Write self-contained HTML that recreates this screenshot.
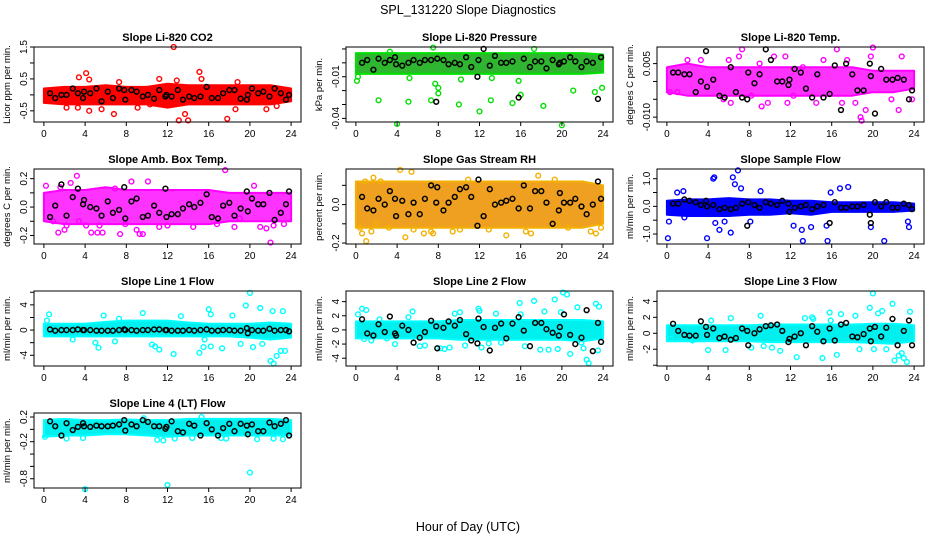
<!DOCTYPE html>
<html><head><meta charset="utf-8"><style>
html,body{margin:0;padding:0;background:#fff;}
svg{display:block;font-family:"Liberation Sans",sans-serif;}
</style></head><body>
<svg id="chart" width="936" height="540" viewBox="0 0 936 540">
<text x="468" y="14" text-anchor="middle" font-size="12.5">SPL_131220  Slope Diagnostics</text>
<text x="468" y="531" text-anchor="middle" font-size="12.5">Hour of Day (UTC)</text>
</svg>
<script>
const bandHours=[0,2,4,6,8,10,12,14,16,18,20,22,24];
const blackX=[0.6,1.1,1.7,2.2,2.8,3.3,3.8,3.9,4.5,5.1,5.6,6.2,6.7,7.3,7.8,7.9,8.5,9,9.6,10.1,10.7,11.2,11.8,11.9,12.4,13,13.5,14.1,14.6,15.2,15.8,16.3,16.9,17.4,18,18.5,19.1,19.7,19.8,20.2,20.8,21.3,21.9,22.4,23,23.5,23.8];
const xTicks=[0,4,8,12,16,20,24];

const co2Hi=[0.2,0.25,0.25,0.3,0.25,0.25,0.35,0.3,0.3,0.3,0.3,0.3,0.2];
const co2Lo=[-0.25,-0.3,-0.3,-0.3,-0.3,-0.3,-0.4,-0.3,-0.3,-0.3,-0.3,-0.3,-0.2];
const co2OutX=[12.6,4.1,3.4,15.1,4.4,13.1,14,17.8,6.8,4.4,13.7,5.6,2.2,9.1,18.6,21.6,11.2,12.9,15.3,7.3,18.8,22.6,3.3,10.3];
const co2OutY=[1.5,0.68,0.55,0.72,0.48,-0.8,-0.8,-0.75,-0.6,-0.5,-0.6,-0.45,-0.4,-0.4,-0.45,-0.45,0.5,0.45,0.5,0.4,0.4,-0.35,-0.4,-0.3];
const co2BlackY=[0.05,-0.1,0,0,0.2,0.05,-0.1,0.1,0.05,0.2,-0.2,0.1,-0.1,0.2,0.15,-0.15,0.15,0.1,-0.05,0,-0.12,0.15,-0.05,0,-0.05,0.15,-0.15,-0.05,-0.1,-0.05,0.25,-0.1,-0.1,0.05,0.15,0.15,-0.12,-0.15,0,0.2,0.05,0.1,-0.05,0.2,0.05,-0.15,0];

const presHi=[0.007,0.007,0.007,0.007,0.007,0.007,0.007,0.007,0.007,0.007,0.007,0.007,0.006];
const presLo=[-0.008,-0.008,-0.008,-0.008,-0.008,-0.008,-0.008,-0.008,-0.008,-0.008,-0.008,-0.008,-0.007];
const presOutX=[0.1,0.2,2.2,4,5.1,5.2,7.3,7.5,7.7,8,8,10,10.2,12,13.1,13.2,15.2,15.8,16,18.2,20,21.1,23.2,23.9,17.3,3.3];
const presOutY=[-0.013,-0.010,-0.027,-0.044,-0.028,-0.011,-0.027,0.011,-0.015,-0.018,-0.022,-0.030,-0.012,-0.035,-0.027,-0.011,-0.029,-0.013,-0.023,-0.031,-0.045,-0.020,-0.021,-0.018,0.010,0.008];
const presBlackY=[0,0.002,-0.005,0.003,0,0.002,0.004,-0.001,-0.002,0,0.002,0,0.002,0.002,-0.028,0.003,0.002,-0.001,0,-0.001,0.004,-0.003,-0.010,0.002,0.010,-0.002,0.005,0,0,0.001,-0.025,0.003,-0.003,0.001,0.001,-0.004,0.002,-0.001,0,0.001,0.004,0.001,-0.003,0.001,0,-0.026,0.004];

const tempHi=[0.004,0.005,0.004,0.004,0.004,0.004,0.004,0.004,0.004,0.004,0.003,0.003,0.003];
const tempLo=[-0.003,-0.004,-0.004,-0.004,-0.004,-0.004,-0.004,-0.004,-0.004,-0.004,-0.003,-0.003,-0.002];
const tempOutX=[0.3,1,2,3.3,5.5,6.2,7.3,7,8.2,9.2,9.8,10.4,11.7,12.3,13.2,14.5,16.5,17,18.3,18.8,18.9,19.3,19.8,20,21.8,22.5,22.8,23.8,6,9,11.5,15.2,17.5];
const tempOutY=[-0.003,-0.003,0.006,0.006,-0.005,-0.006,0.009,0.007,-0.004,-0.007,-0.006,0.007,-0.006,-0.004,0.004,-0.006,0.009,-0.006,-0.006,-0.010,-0.011,-0.008,0.007,0.0095,-0.005,-0.008,0.007,-0.005,0.006,0.005,0.007,0.006,0.006];
const tempBlackY=[0.0025,0.0025,0.002,0.002,-0.003,0,0.0085,-0.0015,0.0005,-0.004,-0.0045,0.004,-0.003,-0.0045,-0.005,0.0025,-0.0005,0.002,0.009,0.006,0,0,-0.001,0.0005,0.0035,0.0025,-0.002,-0.0045,0.002,-0.0045,-0.0035,0.0045,-0.008,0.005,0.002,-0.0025,-0.0025,0.005,0.0015,-0.009,0.0035,0.0005,0.0005,0.001,0.0005,-0.005,-0.0025];

const boxHi=[0.1,0.12,0.12,0.14,0.12,0.12,0.12,0.12,0.12,0.1,0.1,0.1,0.1];
const boxLo=[-0.1,-0.12,-0.12,-0.12,-0.12,-0.12,-0.12,-0.12,-0.12,-0.1,-0.1,-0.1,-0.1];
const boxOutX=[0.2,0.9,1.4,2,2.2,2.6,3.2,3.4,4.1,4.6,5.2,5.4,5.7,7.4,7.9,8.5,9,9.3,9.6,10.1,11.2,14.5,17.6,18.5,19,20.4,21,21.6,22,22.3,23.3,1.6,6.9,12,16.8];
const boxOutY=[0.15,-0.1,-0.18,-0.16,-0.13,0.17,0.22,-0.1,-0.13,-0.18,-0.18,-0.13,-0.18,-0.19,-0.12,0.18,-0.16,-0.19,-0.19,0.18,-0.14,-0.14,0.26,-0.14,-0.08,0.15,-0.14,-0.15,-0.25,-0.13,-0.12,0.14,0.13,-0.13,-0.12];
const boxBlackY=[-0.07,0.01,0.16,-0.06,0.07,0.13,0.02,0.05,0,-0.01,-0.06,0.04,-0.04,-0.02,0.14,-0.08,0.04,0.06,-0.07,-0.06,0.01,-0.04,0.13,-0.07,-0.05,-0.05,-0.01,0.02,0,0.03,0.09,-0.07,-0.08,0.01,0.03,-0.06,-0.01,0.11,-0.03,0.06,0.02,0.02,0.1,-0.09,-0.04,0.02,0.11];

const rhHi=[0.12,0.12,0.12,0.12,0.12,0.12,0.12,0.12,0.12,0.12,0.12,0.12,0.1];
const rhLo=[-0.12,-0.12,-0.12,-0.12,-0.12,-0.12,-0.12,-0.12,-0.12,-0.12,-0.12,-0.12,-0.1];
const rhOutX=[0.4,0.6,1,1.5,1.7,2,2.4,3.2,4.3,4.8,5.4,5.6,6.6,7.3,7.5,9.4,10.1,10.9,12.9,14.6,16.5,17,17.7,19.3,19.6,20.6,22.8,23.3,23.8,0.9];
const rhOutY=[-0.12,-0.15,-0.19,-0.14,0.14,-0.1,0.12,-0.12,0.18,-0.17,0.17,-0.13,-0.15,-0.14,-0.15,-0.14,-0.13,0.13,-0.13,-0.16,-0.14,-0.15,0.15,0.13,-0.1,-0.12,-0.14,-0.15,-0.12,0.12];
const rhBlackY=[0.04,-0.02,-0.03,0.03,0,0.07,0.03,-0.06,0.02,-0.05,0.01,-0.05,0.03,0.1,0.01,0.09,-0.03,0.01,0.04,0.08,0.09,0.04,-0.11,0.13,-0.06,0.08,0,0.01,0.02,0.03,-0.02,0.1,-0.02,0.07,0.07,0.01,-0.1,-0.03,0.06,0.01,0.01,0.03,-0.01,-0.05,0,0.12,0.03];

const flowHi=[0.2,0.25,0.25,0.3,0.25,0.25,0.2,0.2,0.15,0.15,0.15,0.15,0.1];
const flowLo=[-0.3,-0.35,-0.35,-0.35,-0.3,-0.3,-0.25,-0.3,-0.2,-0.2,-0.2,-0.2,-0.15];
const flowOutX=[0.1,0.2,1,1.6,1.7,3.9,4.5,4.7,4.6,5.1,5.6,6.2,6.4,6.6,6.9,7.2,9.1,13.1,13.2,14,15.5,15.6,15.9,16.8,17.6,19.8,21.1,23.4,23.5,12.3,8.1];
const flowOutY=[-1.15,-0.55,0.5,0.55,-0.4,-1.15,1.0,-0.6,1.05,-0.85,-0.55,-0.95,1.05,0.8,1.3,0.65,0.55,-0.85,-1.25,-0.75,-0.7,-1.25,0.5,0.65,0.7,-0.75,-1.25,-0.55,-0.75,-0.7,-0.55];
const flowBlackY=[0.1,0.1,0.25,0.2,0.15,0.05,0.2,0,0.05,-0.1,-0.05,-0.1,-0.05,0.1,-0.7,0.15,0.05,-0.05,0.15,0.1,0.05,0.2,0.1,-0.2,-0.05,0,0.05,-0.1,0,0.05,-0.6,0.15,-0.05,-0.05,0,0,0.05,-0.3,-0.6,0.15,0,0.15,-0.05,-0.05,0.1,0.05,-0.1];

const l1Hi=[1,1,1,1.3,1.5,1.5,1.5,1.2,1,1,1,1.2,1];
const l1Lo=[-1,-1,-1,-1,-1,-1,-1,-1,-1,-1,-1.2,-1.5,-1.2];
const l1OutX=[0.3,0.5,2.8,5,5.3,5.8,6.9,7.3,9.6,10.5,10.8,11.2,12.6,13.3,15.1,15.5,15.6,16,16.2,17.3,18.3,19.1,19.6,20,20.3,21,21.2,22,22.2,22.3,22.6,23,23.2,23.4,16.2];
const l1OutY=[1.5,2.5,-1.5,-2,-2.8,2.3,-1.8,1.8,2.7,-2.3,-2.6,-3.1,-3.8,2.2,-3.6,-2.7,-1.5,3.3,2.5,-2.9,2.3,-2.2,3.9,5.9,-2.7,3.5,-2.2,-4.9,3,-5.3,-4.1,-3.3,3,-3.3,-2.6];
const l1BlackY=[0.1,-0.1,0,0,0,0.1,0,0,0,-0.1,-0.1,-0.1,-0.1,0,0.1,0,0,-0.1,0,0,0.1,0.1,0,0,-0.1,-0.1,-0.1,0,-0.1,0,0.1,-0.1,-0.1,0,0,-0.1,-0.1,0.3,-0.5,0,-0.1,-0.1,0.2,-0.1,0,0,-0.2];

const l2Hi=[1.2,1.2,1.2,1.2,1.2,1.4,1.4,1.4,1.4,1.4,1.4,1.4,1.2];
const l2Lo=[-1.2,-1.2,-1.2,-1.2,-1.2,-1.4,-1.4,-1.4,-1.4,-1.4,-1.4,-1.6,-1.2];
const l2OutX=[0.2,0.6,1,1.5,0.8,2.3,3,3.8,5.1,5.5,6.2,6.7,8.2,8.6,9.1,9.6,10.1,10.6,11.9,12.2,12.9,13.6,14.1,15.9,16.4,17.3,17.9,18.3,18.7,19.3,19.6,20.1,20.5,20.8,21.5,22.1,22.4,22.6,23.3,23.5,23.6,12,16,19.9,21.9];
const l2OutY=[2.2,3,2.8,-1.5,-1.3,1.5,-1.2,-2,1.8,2.6,-2.3,-2.2,-2.6,-2.7,-2.5,2.3,2.5,-2.2,3,-2.5,-1.9,2.3,-1.8,3.8,-2.3,4.1,-2.8,2.6,-2.8,4.3,-2.7,5.3,5,-3.4,3.2,-2.6,-4.2,-4.7,3.7,-2.9,3.3,2.7,2.2,2.5,-1.8];
const l2BlackY=[1.5,-0.5,-0.8,0.8,-0.3,1.9,-0.5,-0.8,0.6,0,-1.8,-1.1,-0.3,1.3,0.5,-2.6,0.3,1.2,0.6,1.4,-0.6,-1.5,-1.9,1.6,0.4,-2.9,0.3,0.9,-1.2,0.9,1.8,-0.1,-2.3,1,1,0.1,-0.4,-0.8,0.4,2.2,-0.7,-2,-1.1,2.8,-3,1,-1.7];

const l3Hi=[1,1,1,1,1,1.1,1.1,1.1,1.1,1.1,1.2,1.2,1];
const l3Lo=[-1,-1,-1,-1,-1,-1.1,-1.1,-1.1,-1.1,-1.1,-1.2,-1.3,-1];
const l3OutX=[0.3,4,4.3,5.7,6.2,8.2,9.1,9.4,10.2,11,12.6,14.1,14.2,15.1,15.8,16.5,16.9,18.3,18.7,19.7,20,20.1,20.5,20.9,21.3,21.9,22.1,22.5,22.8,23,23.3,23.6,15.9,13.4,2.5];
const l3OutY=[-0.7,-2.1,1.6,-2.1,1.9,-1.8,2.2,-1.6,-1.8,-2.2,-3,2,1.8,-3.1,2.6,-2.7,2.4,2.2,-2,3.2,5,-2,2.5,2.8,-2,3.7,-3.4,-2.8,-2.5,-3.1,-3.6,2.7,1.6,1.9,-0.9];
const l3BlackY=[1.2,0.3,-0.2,-0.3,-0.3,1.5,0.8,-0.2,0.6,-0.6,-0.4,-0.8,-0.6,0.6,0.3,-1.5,0,0.5,0.9,1,1.1,0.3,-1.1,-0.7,-0.4,0,-1.5,0.9,0.2,-1,0.6,-0.9,1.1,1.3,-0.4,-0.5,-0.1,0.6,-1,0.8,-0.4,0.7,1.8,-1.5,0.3,1.6,-1.5];

const l4Hi=[0.15,0.17,0.15,0.15,0.16,0.15,0.15,0.17,0.17,0.17,0.17,0.17,0.15];
const l4Lo=[-0.12,-0.1,-0.1,-0.08,-0.08,-0.1,-0.12,-0.1,-0.1,-0.1,-0.1,-0.1,-0.1];
const l4OutX=[4,12,20,2.2,3.8,9.7,11,11.6,12.7,14.4,17.2,17.7,20.7,22.3,23.2,0.1,15.3];
const l4OutY=[-0.97,-0.9,-0.7,-0.15,-0.14,0.18,-0.17,-0.18,-0.15,-0.14,-0.14,-0.15,-0.16,-0.15,-0.16,-0.12,0.2];
const l4BlackY=[0.13,0.05,-0.1,0.1,-0.01,0.04,0.1,0.05,0.04,0.06,0.05,0.05,0.06,0.08,0.15,-0.02,0.08,0.05,0.15,0.12,0.05,0.05,0.01,0.04,0.13,-0.03,-0.05,0.09,0.06,-0.1,0.1,0,-0.1,0.02,0.09,-0.03,0.09,0.06,-0.08,0.08,-0.03,-0.03,0.11,0.05,0.09,0.15,-0.1];

const panels=[
 {key:'co2',title:'Slope Li-820 CO2',ylab:'Licor ppm per min.',col:0,row:0,ymin:-0.85,ymax:1.5,ticks:[-0.5,0,0.5,1,1.5],labels:{'-0.5':'-0.5','0.5':'0.5','1.5':'1.5'},color:'#ff0000',fill:'#ff0000',hi:co2Hi,lo:co2Lo,ox:co2OutX,oy:co2OutY,by:co2BlackY},
 {key:'pressure',title:'Slope Li-820 Pressure',ylab:'kPa per min.',col:1,row:0,ymin:-0.0426,ymax:0.0114,ticks:[-0.04,-0.03,-0.02,-0.01,0,0.01],labels:{'-0.04':'-0.04','-0.01':'-0.01'},color:'#00e000',fill:'#2fb52f',hi:presHi,lo:presLo,ox:presOutX,oy:presOutY,by:presBlackY},
 {key:'li820-temp',title:'Slope Li-820 Temp.',ylab:'degrees C per min.',col:2,row:0,ymin:-0.01136,ymax:0.00965,ticks:[-0.01,-0.005,0,0.005],labels:{'-0.01':'-0.010','0.005':'0.005'},color:'#ff00ff',fill:'#ff33ff',hi:tempHi,lo:tempLo,ox:tempOutX,oy:tempOutY,by:tempBlackY},
 {key:'amb-box-temp',title:'Slope Amb. Box Temp.',ylab:'degrees C per min.',col:0,row:1,ymin:-0.26,ymax:0.268,ticks:[-0.2,-0.1,0,0.1,0.2],labels:{'-0.2':'-0.2','0':'0.0','0.2':'0.2'},color:'#ff00ff',fill:'#ff33ff',hi:boxHi,lo:boxLo,ox:boxOutX,oy:boxOutY,by:boxBlackY},
 {key:'gas-rh',title:'Slope Gas Stream RH',ylab:'percent per min.',col:1,row:1,ymin:-0.205,ymax:0.185,ticks:[-0.2,-0.1,0,0.1],labels:{'-0.2':'-0.2','0':'0.0'},color:'#f4b000',fill:'#f0a020',hi:rhHi,lo:rhLo,ox:rhOutX,oy:rhOutY,by:rhBlackY},
 {key:'sample-flow',title:'Slope Sample Flow',ylab:'ml/min per min.',col:2,row:1,ymin:-1.36,ymax:1.35,ticks:[-1,-0.5,0,0.5,1],labels:{'-1':'-1.0','0':'0.0','1':'1.0'},color:'#0000ff',fill:'#0000ff',hi:flowHi,lo:flowLo,ox:flowOutX,oy:flowOutY,by:flowBlackY},
 {key:'line1-flow',title:'Slope Line 1 Flow',ylab:'ml/min per min.',col:0,row:2,ymin:-5.7,ymax:6.2,ticks:[-4,-2,0,2,4,6],labels:{'-4':'-4','0':'0','4':'4'},color:'#00ffff',fill:'#00f0f0',hi:l1Hi,lo:l1Lo,ox:l1OutX,oy:l1OutY,by:l1BlackY},
 {key:'line2-flow',title:'Slope Line 2 Flow',ylab:'ml/min per min.',col:1,row:2,ymin:-5.1,ymax:5.5,ticks:[-4,-2,0,2,4],labels:{'-4':'-4','-2':'-2','0':'0','2':'2','4':'4'},color:'#00ffff',fill:'#00f0f0',hi:l2Hi,lo:l2Lo,ox:l2OutX,oy:l2OutY,by:l2BlackY},
 {key:'line3-flow',title:'Slope Line 3 Flow',ylab:'ml/min per min.',col:2,row:2,ymin:-4.1,ymax:5.3,ticks:[-4,-2,0,2,4],labels:{'-2':'-2','0':'0','2':'2','4':'4'},color:'#00ffff',fill:'#00f0f0',hi:l3Hi,lo:l3Lo,ox:l3OutX,oy:l3OutY,by:l3BlackY},
 {key:'line4-flow',title:'Slope Line 4 (LT) Flow',ylab:'ml/min per min.',col:0,row:3,ymin:-0.95,ymax:0.265,ticks:[-0.8,-0.6,-0.4,-0.2,0,0.2],labels:{'-0.8':'-0.8','-0.2':'-0.2','0.2':'0.2'},color:'#00ffff',fill:'#00f0f0',hi:l4Hi,lo:l4Lo,ox:l4OutX,oy:l4OutY,by:l4BlackY}
];

const NS='http://www.w3.org/2000/svg';
const svg=document.getElementById('chart');
const colX=[34,346,657], rowY=[47,169,291,413], W=267, H=75;
function mk(tag,attrs,parent){const e=document.createElementNS(NS,tag);for(const k in attrs)e.setAttribute(k,attrs[k]);parent.appendChild(e);return e;}

panels.forEach(p=>{
  const L=colX[p.col], T=rowY[p.row];
  const xs=v=>L+(v+0.96)/25.92*W;
  const ys=v=>T+H-(v-p.ymin)/(p.ymax-p.ymin)*H;
  const g=mk('g',{},svg);
  
  
  const t=mk('text',{x:L+W/2,y:T-6,'text-anchor':'middle','font-size':'11','font-weight':'bold'},g);
  t.textContent=p.title;
  
  
  const yl=mk('text',{transform:`translate(${L-24},${T+H/2}) rotate(-90)`,'text-anchor':'middle','font-size':'9.5'},g);
  yl.textContent=p.ylab;
  
  
  let d='';
  bandHours.forEach((h,i)=>{d+=(i?'L':'M')+xs(h).toFixed(1)+','+ys(p.hi[i]).toFixed(1);});
  for(let i=bandHours.length-1;i>=0;i--)d+='L'+xs(bandHours[i]).toFixed(1)+','+ys(p.lo[i]).toFixed(1);
  const band=mk('path',{d:d+'Z',fill:p.fill,stroke:p.color,'stroke-width':'2','stroke-linejoin':'round'},g);
  
  
  p.ox.forEach((x,i)=>{
    const c=mk('circle',{cx:xs(x),cy:ys(p.oy[i]),r:2.4,fill:'none',stroke:p.color,'stroke-width':'1.4'},g);
    
    
  });
  blackX.forEach((x,i)=>{
    const c=mk('circle',{cx:xs(x),cy:ys(p.by[i]),r:2.4,fill:'none',stroke:'#000','stroke-width':'1.5'},g);
    
    
  });
  const box=mk('rect',{x:L,y:T,width:W,height:H,fill:'none',stroke:'#000','stroke-width':'1'},g);
  
  
  xTicks.forEach(v=>{
    mk('line',{x1:xs(v),x2:xs(v),y1:T+H,y2:T+H+4,stroke:'#000'},g);
    const tl=mk('text',{x:xs(v),y:T+H+15,'text-anchor':'middle','font-size':'10'},g);
    tl.textContent=v;
    
    
  });
  p.ticks.forEach(v=>{
    const y=ys(v); if(y<T-1||y>T+H+1)return;
    mk('line',{x1:L-4,x2:L,y1:y,y2:y,stroke:'#000'},g);
    const lab=p.labels[String(v)];
    if(lab){
      const tl=mk('text',{transform:`translate(${L-7},${y}) rotate(-90)`,'text-anchor':'middle','font-size':'10'},g);
      tl.textContent=lab;
      
      
    }
  });
});
</script>
</body></html>
